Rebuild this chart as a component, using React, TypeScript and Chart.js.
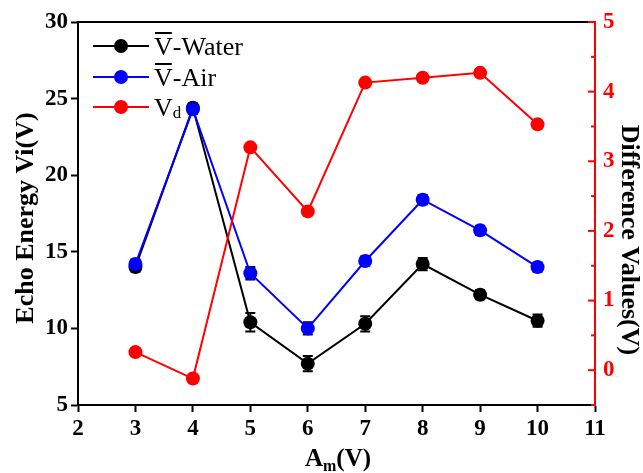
import React, { useEffect, useRef } from 'react';
import { Chart, registerables } from 'chart.js';
Chart.register(...registerables);

const amplitudes = [3, 4, 5, 6, 7, 8, 9, 10];
const waterMean = [14.0, 24.4, 10.4, 7.7, 10.3, 14.2, 12.2, 10.5];
const waterErr = [0.3, 0.3, 0.6, 0.5, 0.5, 0.4, 0.3, 0.4];
const airMean = [14.2, 24.3, 13.6, 10.0, 14.4, 18.4, 16.4, 14.0];
const airErr = [0.3, 0.3, 0.4, 0.4, 0.3, 0.3, 0.3, 0.3];
const diffValues = [0.26, -0.12, 3.2, 2.28, 4.13, 4.2, 4.27, 3.53];

const FONT = '"Liberation Serif", "Times New Roman", serif';

const errorBars: Record<number, number[]> = { 0: waterErr, 1: airErr };

const framePlugin = {
  id: 'frame',
  beforeDatasetsDraw(chart: any) {
    const ctx = chart.ctx;
    const ys = chart.scales.y;
    const xs = chart.scales.x;
    ctx.save();
    Object.keys(errorBars).forEach((k) => {
      const i = Number(k);
      const ds = chart.data.datasets[i];
      const errs = errorBars[i];
      ctx.strokeStyle = '#000';
      ctx.lineWidth = 2;
      ds.data.forEach((p: any, j: number) => {
        const px = xs.getPixelForValue(p.x);
        const top = ys.getPixelForValue(p.y + errs[j]);
        const bot = ys.getPixelForValue(p.y - errs[j]);
        ctx.beginPath();
        ctx.moveTo(px, top);
        ctx.lineTo(px, bot);
        ctx.moveTo(px - 5, top);
        ctx.lineTo(px + 5, top);
        ctx.moveTo(px - 5, bot);
        ctx.lineTo(px + 5, bot);
        ctx.stroke();
      });
    });
    ctx.restore();
  },
  afterDraw(chart: any) {
    const ctx = chart.ctx;
    const a = chart.chartArea;
    const y2 = chart.scales.y2;
    ctx.save();
    ctx.strokeStyle = '#000';
    ctx.lineWidth = 2;
    ctx.beginPath();
    ctx.moveTo(a.left, a.top);
    ctx.lineTo(a.right, a.top);
    ctx.stroke();
    ctx.strokeStyle = '#ff0000';
    ctx.lineWidth = 2;
    for (let v = -0.5; v <= 5.001; v += 0.5) {
      const py = y2.getPixelForValue(v);
      const major = Math.abs(v - Math.round(v)) < 1e-6;
      ctx.beginPath();
      ctx.moveTo(a.right, py);
      ctx.lineTo(a.right - (major ? 7 : 4), py);
      ctx.stroke();
    }
    ctx.beginPath();
    ctx.moveTo(a.right, a.top);
    ctx.lineTo(a.right, a.bottom);
    ctx.stroke();

    ctx.fillStyle = '#000';
    ctx.font = `bold 26px ${FONT}`;
    ctx.textBaseline = 'middle';
    ctx.textAlign = 'center';
    ctx.save();
    ctx.translate(26, 218);
    ctx.rotate(-Math.PI / 2);
    ctx.fillText('Echo Energy Vi(V)', 0, 0);
    ctx.restore();
    ctx.save();
    ctx.translate(629, 240);
    ctx.rotate(Math.PI / 2);
    ctx.fillText('Difference Values(V)', 0, 0);
    ctx.restore();

    ctx.textAlign = 'left';
    ctx.textBaseline = 'alphabetic';
    const base = 466;
    ctx.font = `bold 25px ${FONT}`;
    const wA = ctx.measureText('A').width;
    ctx.font = `bold 16px ${FONT}`;
    const wm = ctx.measureText('m').width;
    ctx.font = `bold 25px ${FONT}`;
    const wV = ctx.measureText('(V)').width;
    const total = wA + wm + wV;
    const x0 = 338 - total / 2;
    ctx.fillText('A', x0, base);
    ctx.font = `bold 16px ${FONT}`;
    ctx.fillText('m', x0 + wA, base + 5);
    ctx.font = `bold 25px ${FONT}`;
    ctx.fillText('(V)', x0 + wA + wm, base);

    const rows = [
      { color: '#000000', y: 46, kind: 'water' },
      { color: '#0000ff', y: 77, kind: 'air' },
      { color: '#ff0000', y: 107, kind: 'vd' },
    ];
    rows.forEach((r) => {
      ctx.strokeStyle = r.color;
      ctx.lineWidth = 2;
      ctx.beginPath();
      ctx.moveTo(93, r.y);
      ctx.lineTo(149, r.y);
      ctx.stroke();
      ctx.fillStyle = r.color;
      ctx.beginPath();
      ctx.arc(121, r.y, 7, 0, Math.PI * 2);
      ctx.fill();
      ctx.fillStyle = '#000';
      const tx = 154;
      const by = r.y + 9;
      ctx.font = `26px ${FONT}`;
      if (r.kind === 'vd') {
        const w = ctx.measureText('V').width;
        ctx.fillText('V', tx, by);
        ctx.font = `17px ${FONT}`;
        ctx.fillText('d', tx + w, by + 2);
      } else {
        const w = ctx.measureText('V').width;
        ctx.fillText('V', tx, by);
        ctx.fillRect(tx + 1, by - 23, w - 2, 2);
        ctx.fillText(r.kind === 'water' ? '-Water' : '-Air', tx + w, by);
      }
    });
    ctx.restore();
  },
};

export default function App() {
  const ref = useRef<HTMLCanvasElement | null>(null);
  useEffect(() => {
    if (!ref.current) return;
    const tickFont = { family: FONT, size: 23, weight: 'bold' as const };
    const mk = (label: string, vals: number[], color: string, axis: string, order: number) => ({
      label,
      data: amplitudes.map((x, i) => ({ x, y: vals[i] })),
      borderColor: color,
      backgroundColor: color,
      pointRadius: 7,
      pointHoverRadius: 7,
      borderWidth: 2,
      pointBorderWidth: 0,
      yAxisID: axis,
      order,
    });
    const chart = new Chart(ref.current, {
      type: 'line',
      data: {
        datasets: [
          mk('V-Water', waterMean, '#000000', 'y', 3),
          mk('V-Air', airMean, '#0000ff', 'y', 2),
          mk('Vd', diffValues, '#ff0000', 'y2', 1),
        ],
      },
      options: {
        animation: false,
        responsive: false,
        maintainAspectRatio: false,
        layout: { padding: { top: 22, left: 0, right: 0, bottom: 0 } },
        plugins: { legend: { display: false }, tooltip: { enabled: false } },
        scales: {
          x: {
            type: 'linear',
            min: 2,
            max: 11,
            afterFit: (s: any) => { s.height = 68; },
            ticks: { stepSize: 1, font: tickFont, color: '#000', padding: 3 },
            grid: { drawOnChartArea: false, tickLength: 7, color: '#000', tickWidth: 2 },
            border: { color: '#000', width: 2 },
          },
          y: {
            type: 'linear',
            position: 'left',
            min: 5,
            max: 30,
            afterFit: (s: any) => { s.width = 78; },
            ticks: { stepSize: 5, font: tickFont, color: '#000', padding: 3 },
            grid: { drawOnChartArea: false, tickLength: 7, color: '#000', tickWidth: 2 },
            border: { color: '#000', width: 2 },
          },
          y2: {
            type: 'linear',
            position: 'right',
            min: -0.5,
            max: 5,
            afterFit: (s: any) => { s.width = 48; },
            ticks: {
              stepSize: 0.5,
              font: tickFont,
              color: '#ff0000',
              padding: 8,
              callback: (v: any) => (Math.abs(v - Math.round(v)) < 1e-6 ? String(Math.round(v)) : ''),
            },
            grid: { drawOnChartArea: false, drawTicks: false, color: '#ff0000' },
            border: { color: '#ff0000', width: 2 },
          },
        },
      },
      plugins: [framePlugin],
    });
    return () => chart.destroy();
  }, []);
  return (
    <div style={{ position: 'fixed', left: 0, top: 0, width: 643, height: 473, background: '#fff' }}>
      <canvas ref={ref} width={643} height={473} style={{ width: 643, height: 473 }} />
    </div>
  );
}
